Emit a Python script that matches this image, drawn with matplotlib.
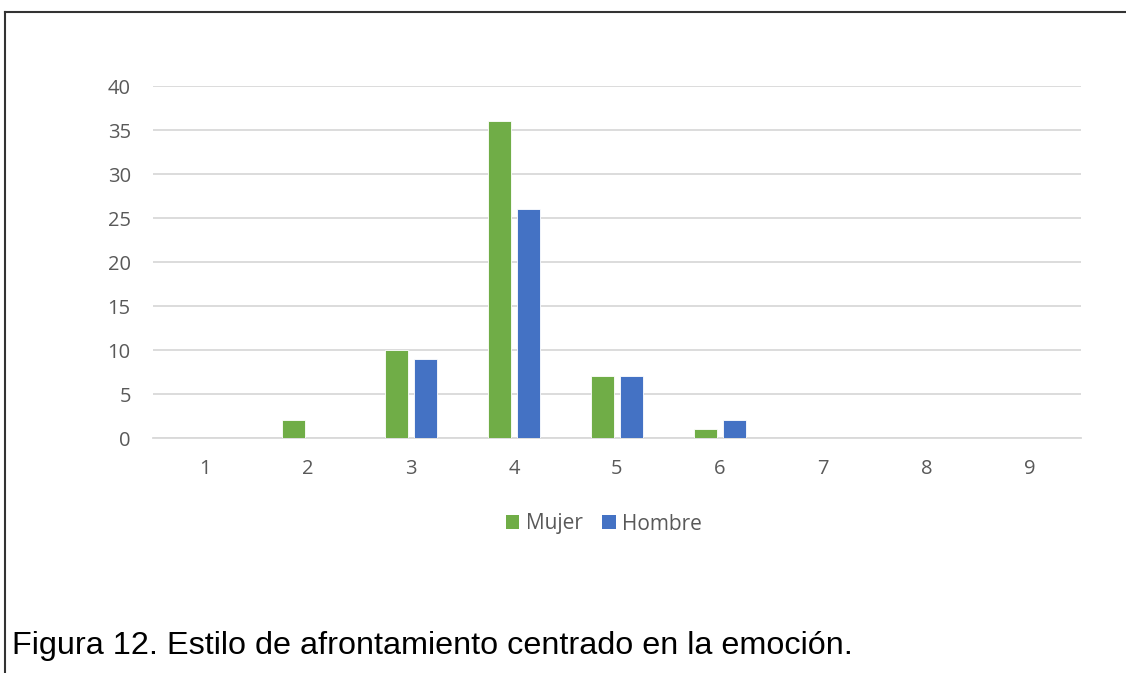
import matplotlib
matplotlib.use("Agg")
import matplotlib.pyplot as plt
from matplotlib.lines import Line2D
from matplotlib.patches import Patch
import numpy as np

categories = ["1", "2", "3", "4", "5", "6", "7", "8", "9"]
mujer = [0, 2, 10, 36, 7, 1, 0, 0, 0]
hombre = [0, 0, 9, 26, 7, 2, 0, 0, 0]
y_ticks = [0, 5, 10, 15, 20, 25, 30, 35, 40]
series_names = ["Mujer", "Hombre"]
caption = "Figura 12. Estilo de afrontamiento centrado en la emoción."

GREEN = "#70AD47"
BLUE = "#4472C4"
TICK_COLOR = "#595959"
GRID_COLOR = "#D9D9D9"

W, H = 1126, 673
fig = plt.figure(figsize=(W / 100, H / 100), dpi=100)

# axes placed in pixel coordinates
left, right, bottom, top = 153, 1081, 438, 86
ax = fig.add_axes([left / W, 1 - bottom / H, (right - left) / W, (bottom - top) / H])

x = np.arange(1, len(categories) + 1)
bw = 0.223
off = 0.141
ax.bar(x - off, mujer, width=bw, color=GREEN, edgecolor="white", linewidth=0.6, zorder=3)
ax.bar(x + off, hombre, width=bw, color=BLUE, edgecolor="white", linewidth=0.6, zorder=3)

ax.set_xlim(0.5, len(categories) + 0.5)
ax.set_ylim(0, 40)
ax.set_yticks(y_ticks)
ax.set_xticks(x)
ax.set_xticklabels(categories)
ax.yaxis.grid(True, color=GRID_COLOR, linewidth=1.3, zorder=0)
ax.set_axisbelow(True)
for s in ["top", "right", "left"]:
    ax.spines[s].set_visible(False)
ax.spines["bottom"].set_color(GRID_COLOR)
ax.spines["bottom"].set_linewidth(1.3)
ax.tick_params(axis="both", length=0, labelsize=14.5, labelcolor=TICK_COLOR)
ax.tick_params(axis="y", pad=16)
ax.tick_params(axis="x", pad=15)
for lbl in ax.get_xticklabels() + ax.get_yticklabels():
    lbl.set_family("Open Sans")

handles = [Patch(facecolor=GREEN), Patch(facecolor=BLUE)]
leg = fig.legend(handles, series_names, loc="center", bbox_to_anchor=(604 / W, 1 - 524 / H),
                 ncol=2, frameon=False, handlelength=0.65, handleheight=0.65,
                 handletextpad=0.3, columnspacing=0.95,
                 prop={"family": "Open Sans", "size": 15})
for t in leg.get_texts():
    t.set_color(TICK_COLOR)

fig.text(12 / W, 1 - 654 / H, caption, fontsize=23.3, family="Liberation Sans",
         color="black", va="baseline", ha="left")

# outer frame: top and left edges
fig.add_artist(Line2D([5 / W, 1.0], [1 - 12 / H, 1 - 12 / H], color="#333333", linewidth=1.5,
                      transform=fig.transFigure))
fig.add_artist(Line2D([5 / W, 5 / W], [1 - 12 / H, 0], color="#333333", linewidth=1.5,
                      transform=fig.transFigure))

fig.savefig("out.png", dpi=100)
